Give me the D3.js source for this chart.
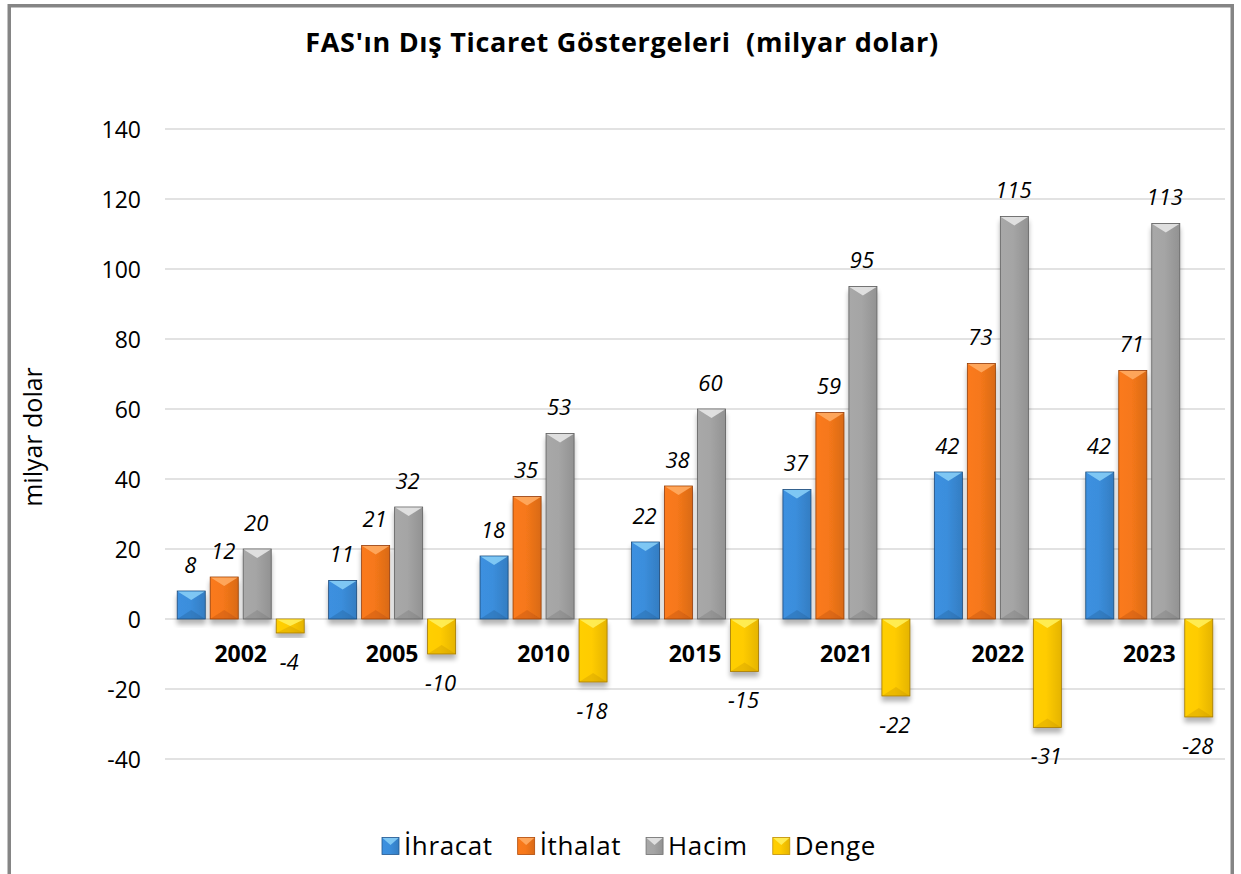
<!DOCTYPE html>
<html>
<head>
<meta charset="utf-8">
<script src="https://cdn.jsdelivr.net/npm/d3@7"></script>
<style>
  body { margin: 0; background: #fff; }
  svg { font-family: "Open Sans", "Noto Sans", sans-serif; }
</style>
</head>
<body>
<svg id="chart" width="1241" height="874"></svg>
<script>
// chart data
const years = ["2002", "2005", "2010", "2015", "2021", "2022", "2023"];
const seriesNames = ["İhracat", "İthalat", "Hacim", "Denge"];
const ihracat = [8, 11, 18, 22, 37, 42, 42];
const ithalat = [12, 21, 35, 38, 59, 73, 71];
const hacim = [20, 32, 53, 60, 95, 115, 113];
const denge = [-4, -10, -18, -15, -22, -31, -28];
const yTicks = [-40, -20, 0, 20, 40, 60, 80, 100, 120, 140];

const colors = {
  "İhracat": { base: "#3a8bd8", light: "#86cdf6", dark: "#22588f" },
  "İthalat": { base: "#f2761a", light: "#ffab62", dark: "#b14a08" },
  "Hacim":   { base: "#a2a2a2", light: "#e6e6e6", dark: "#707070" },
  "Denge":   { base: "#ffc800", light: "#fff05a", dark: "#c08e00" }
};

const allValues = [ihracat, ithalat, hacim, denge];
const rows = years.map((yr, i) => ({
  year: yr,
  values: seriesNames.map((s, j) => ({ key: s, value: allValues[j][i] }))
}));

const svg = d3.select("#chart");
const plotLeft = 165, plotRight = 1225, plotTop = 129, plotBottom = 759;

// frame
svg.append("rect")
  .attr("x", 9.25).attr("y", 5.75)
  .attr("width", 1223).attr("height", 900)
  .attr("fill", "#fff")
  .attr("stroke", "#858585").attr("stroke-width", 3.5);

const defs = svg.append("defs");
const shadow = defs.append("filter").attr("id", "shadow")
  .attr("x", "-30%").attr("y", "-30%").attr("width", "160%").attr("height", "160%");
shadow.append("feGaussianBlur").attr("in", "SourceAlpha").attr("stdDeviation", 2.5);
shadow.append("feOffset").attr("dy", 5).attr("result", "blur");
shadow.append("feComponentTransfer").append("feFuncA").attr("type", "linear").attr("slope", 0.3);
const merge = shadow.append("feMerge");
merge.append("feMergeNode");
merge.append("feMergeNode").attr("in", "SourceGraphic");

seriesNames.forEach((s, i) => {
  const g = defs.append("linearGradient").attr("id", "grad" + i)
    .attr("x1", 0).attr("x2", 1).attr("y1", 0).attr("y2", 0);
  g.append("stop").attr("offset", "0%").attr("stop-color", d3.color(colors[s].base).brighter(0.1));
  g.append("stop").attr("offset", "45%").attr("stop-color", d3.color(colors[s].base).brighter(0.05));
  g.append("stop").attr("offset", "100%").attr("stop-color", d3.color(colors[s].base).darker(0.3));
});

const y = d3.scaleLinear().domain([-40, 140]).range([plotBottom, plotTop]);
const x0 = d3.scaleBand().domain(years).range([plotLeft, plotRight]);
const x1 = d3.scaleBand().domain(seriesNames).range([0, x0.bandwidth()])
  .paddingInner(0.15).paddingOuter(0.37);

// gridlines
svg.append("g")
  .selectAll("line")
  .data(yTicks)
  .enter()
  .append("line")
  .attr("x1", plotLeft).attr("x2", plotRight)
  .attr("y1", d => y(d)).attr("y2", d => y(d))
  .attr("stroke", "#d9d9d9").attr("stroke-width", 1.5);

// y axis
const yAxis = svg.append("g")
  .attr("transform", `translate(${plotLeft},0)`)
  .call(d3.axisLeft(y).tickValues(yTicks).tickFormat(d => String(d)).tickSize(0).tickPadding(24));
yAxis.select(".domain").remove();
yAxis.selectAll("text")
  .attr("font-size", 23).attr("fill", "#000").attr("dy", "0.36em")
  .attr("font-family", "'Open Sans', sans-serif");

// y title
svg.append("text")
  .attr("transform", "translate(42,437) rotate(-90)")
  .attr("text-anchor", "middle")
  .attr("font-size", 25)
  .text("milyar dolar");

// title
svg.append("text")
  .attr("x", 622).attr("y", 52)
  .attr("text-anchor", "middle")
  .attr("font-size", 27).attr("font-weight", "bold")
  .attr("letter-spacing", 0.7)
  .style("white-space", "pre")
  .text("FAS'ın Dış Ticaret Göstergeleri  (milyar dolar)");

// bars
const groups = svg.append("g")
  .selectAll("g")
  .data(rows)
  .enter()
  .append("g")
  .attr("transform", d => `translate(${x0(d.year)},0)`);

const bar = groups.selectAll("g.bar")
  .data(d => d.values)
  .enter()
  .append("g")
  .attr("class", "bar")
  .attr("filter", "url(#shadow)");

const bw = x1.bandwidth();

bar.append("rect")
  .attr("x", d => x1(d.key))
  .attr("y", d => y(Math.max(0, d.value)))
  .attr("width", bw)
  .attr("height", d => Math.abs(y(d.value) - y(0)))
  .attr("fill", d => `url(#grad${seriesNames.indexOf(d.key)})`)
  .attr("stroke", d => d3.color(colors[d.key].dark).darker(0.5))
  .attr("stroke-width", 0.8);

// bevel: light top wedge, dark bottom wedge
bar.append("path")
  .attr("fill", d => colors[d.key].light)
  .attr("opacity", 0.9)
  .attr("d", d => {
    const xa = x1(d.key), t = y(Math.max(0, d.value));
    const h = Math.abs(y(d.value) - y(0));
    const b = Math.min(9, h / 2);
    return `M${xa + 0.5},${t + 0.5}L${xa + bw - 0.5},${t + 0.5}L${xa + bw / 2},${t + b}Z`;
  });
bar.append("path")
  .attr("fill", d => colors[d.key].dark)
  .attr("opacity", 0.3)
  .attr("d", d => {
    const xa = x1(d.key), bt = y(Math.min(0, d.value));
    const h = Math.abs(y(d.value) - y(0));
    const b = Math.min(9, h / 2);
    return `M${xa},${bt}L${xa + bw},${bt}L${xa + bw / 2},${bt - b}Z`;
  });

// data labels
groups.selectAll("text.val")
  .data(d => d.values)
  .enter()
  .append("text")
  .attr("class", "val")
  .attr("x", d => x1(d.key) + bw / 2 - 1)
  .attr("y", d => d.value >= 0 ? y(d.value) - 26 : y(d.value) + 29)
  .attr("dy", "0.36em")
  .attr("text-anchor", "middle")
  .attr("font-size", 22).attr("font-style", "italic")
  .text(d => d.value);

// category labels
svg.append("g")
  .selectAll("text")
  .data(years)
  .enter()
  .append("text")
  .attr("x", d => x0(d) + x0.bandwidth() / 2)
  .attr("y", 653.5)
  .attr("dy", "0.36em")
  .attr("text-anchor", "middle")
  .attr("font-size", 23).attr("font-weight", "bold")
  .text(d => d);

// legend
const legend = svg.append("g");
let lx = 382;
seriesNames.forEach((s, i) => {
  const item = legend.append("g").attr("transform", `translate(${lx},0)`);
  item.append("rect")
    .attr("x", 0).attr("y", 837.5).attr("width", 17).attr("height", 17)
    .attr("fill", `url(#grad${i})`)
    .attr("stroke", colors[s].dark).attr("stroke-width", 0.8);
  item.append("path")
    .attr("d", "M0.5,838L16.5,838L8.5,845Z")
    .attr("fill", colors[s].light).attr("opacity", 0.9);
  const t = item.append("text")
    .attr("x", 22).attr("y", 855)
    .attr("font-size", 26)
    .attr("letter-spacing", 0.6)
    .text(s);
  lx += 22 + t.node().getComputedTextLength() + 25;
});
</script>
</body>
</html>
